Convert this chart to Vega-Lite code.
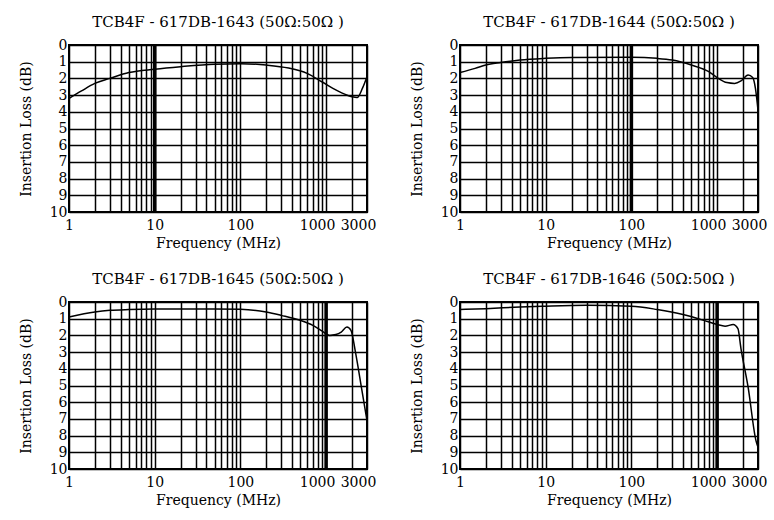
{
  "$schema": "https://vega.github.io/schema/vega-lite/v6.json",
  "background": "white",
  "padding": {"left": 18, "top": 14, "right": 0, "bottom": 0},
  "data": {"values": [
    {"panel": "TCB4F - 617DB-1643 (50Ω:50Ω )", "kind": "thick", "f": 10},
    {"panel": "TCB4F - 617DB-1644 (50Ω:50Ω )", "kind": "thick", "f": 100},
    {"panel": "TCB4F - 617DB-1645 (50Ω:50Ω )", "kind": "thick", "f": 1000},
    {"panel": "TCB4F - 617DB-1646 (50Ω:50Ω )", "kind": "thick", "f": 1000},

    {"panel": "TCB4F - 617DB-1643 (50Ω:50Ω )", "kind": "curve", "f": 1, "loss": 3.2},
    {"panel": "TCB4F - 617DB-1643 (50Ω:50Ω )", "kind": "curve", "f": 1.4, "loss": 2.75},
    {"panel": "TCB4F - 617DB-1643 (50Ω:50Ω )", "kind": "curve", "f": 2, "loss": 2.3},
    {"panel": "TCB4F - 617DB-1643 (50Ω:50Ω )", "kind": "curve", "f": 3, "loss": 2.0},
    {"panel": "TCB4F - 617DB-1643 (50Ω:50Ω )", "kind": "curve", "f": 5, "loss": 1.65},
    {"panel": "TCB4F - 617DB-1643 (50Ω:50Ω )", "kind": "curve", "f": 10, "loss": 1.45},
    {"panel": "TCB4F - 617DB-1643 (50Ω:50Ω )", "kind": "curve", "f": 20, "loss": 1.3},
    {"panel": "TCB4F - 617DB-1643 (50Ω:50Ω )", "kind": "curve", "f": 50, "loss": 1.15},
    {"panel": "TCB4F - 617DB-1643 (50Ω:50Ω )", "kind": "curve", "f": 100, "loss": 1.12},
    {"panel": "TCB4F - 617DB-1643 (50Ω:50Ω )", "kind": "curve", "f": 200, "loss": 1.2},
    {"panel": "TCB4F - 617DB-1643 (50Ω:50Ω )", "kind": "curve", "f": 365, "loss": 1.38},
    {"panel": "TCB4F - 617DB-1643 (50Ω:50Ω )", "kind": "curve", "f": 600, "loss": 1.7},
    {"panel": "TCB4F - 617DB-1643 (50Ω:50Ω )", "kind": "curve", "f": 890, "loss": 2.2},
    {"panel": "TCB4F - 617DB-1643 (50Ω:50Ω )", "kind": "curve", "f": 1200, "loss": 2.6},
    {"panel": "TCB4F - 617DB-1643 (50Ω:50Ω )", "kind": "curve", "f": 1500, "loss": 2.85},
    {"panel": "TCB4F - 617DB-1643 (50Ω:50Ω )", "kind": "curve", "f": 2000, "loss": 3.1},
    {"panel": "TCB4F - 617DB-1643 (50Ω:50Ω )", "kind": "curve", "f": 2300, "loss": 3.15},
    {"panel": "TCB4F - 617DB-1643 (50Ω:50Ω )", "kind": "curve", "f": 2650, "loss": 2.6},
    {"panel": "TCB4F - 617DB-1643 (50Ω:50Ω )", "kind": "curve", "f": 3000, "loss": 1.9},

    {"panel": "TCB4F - 617DB-1644 (50Ω:50Ω )", "kind": "curve", "f": 1, "loss": 1.65},
    {"panel": "TCB4F - 617DB-1644 (50Ω:50Ω )", "kind": "curve", "f": 1.5, "loss": 1.4},
    {"panel": "TCB4F - 617DB-1644 (50Ω:50Ω )", "kind": "curve", "f": 2, "loss": 1.2},
    {"panel": "TCB4F - 617DB-1644 (50Ω:50Ω )", "kind": "curve", "f": 3, "loss": 1.05},
    {"panel": "TCB4F - 617DB-1644 (50Ω:50Ω )", "kind": "curve", "f": 5, "loss": 0.9},
    {"panel": "TCB4F - 617DB-1644 (50Ω:50Ω )", "kind": "curve", "f": 10, "loss": 0.8},
    {"panel": "TCB4F - 617DB-1644 (50Ω:50Ω )", "kind": "curve", "f": 20, "loss": 0.75},
    {"panel": "TCB4F - 617DB-1644 (50Ω:50Ω )", "kind": "curve", "f": 100, "loss": 0.74},
    {"panel": "TCB4F - 617DB-1644 (50Ω:50Ω )", "kind": "curve", "f": 200, "loss": 0.8},
    {"panel": "TCB4F - 617DB-1644 (50Ω:50Ω )", "kind": "curve", "f": 300, "loss": 0.9},
    {"panel": "TCB4F - 617DB-1644 (50Ω:50Ω )", "kind": "curve", "f": 500, "loss": 1.2},
    {"panel": "TCB4F - 617DB-1644 (50Ω:50Ω )", "kind": "curve", "f": 800, "loss": 1.6},
    {"panel": "TCB4F - 617DB-1644 (50Ω:50Ω )", "kind": "curve", "f": 1000, "loss": 1.95},
    {"panel": "TCB4F - 617DB-1644 (50Ω:50Ω )", "kind": "curve", "f": 1300, "loss": 2.25},
    {"panel": "TCB4F - 617DB-1644 (50Ω:50Ω )", "kind": "curve", "f": 1600, "loss": 2.3},
    {"panel": "TCB4F - 617DB-1644 (50Ω:50Ω )", "kind": "curve", "f": 1900, "loss": 2.15},
    {"panel": "TCB4F - 617DB-1644 (50Ω:50Ω )", "kind": "curve", "f": 2300, "loss": 1.8},
    {"panel": "TCB4F - 617DB-1644 (50Ω:50Ω )", "kind": "curve", "f": 2600, "loss": 1.95},
    {"panel": "TCB4F - 617DB-1644 (50Ω:50Ω )", "kind": "curve", "f": 2800, "loss": 2.6},
    {"panel": "TCB4F - 617DB-1644 (50Ω:50Ω )", "kind": "curve", "f": 3000, "loss": 3.9},

    {"panel": "TCB4F - 617DB-1645 (50Ω:50Ω )", "kind": "curve", "f": 1, "loss": 0.9},
    {"panel": "TCB4F - 617DB-1645 (50Ω:50Ω )", "kind": "curve", "f": 2, "loss": 0.6},
    {"panel": "TCB4F - 617DB-1645 (50Ω:50Ω )", "kind": "curve", "f": 3, "loss": 0.5},
    {"panel": "TCB4F - 617DB-1645 (50Ω:50Ω )", "kind": "curve", "f": 5, "loss": 0.45},
    {"panel": "TCB4F - 617DB-1645 (50Ω:50Ω )", "kind": "curve", "f": 10, "loss": 0.42},
    {"panel": "TCB4F - 617DB-1645 (50Ω:50Ω )", "kind": "curve", "f": 50, "loss": 0.42},
    {"panel": "TCB4F - 617DB-1645 (50Ω:50Ω )", "kind": "curve", "f": 100, "loss": 0.44},
    {"panel": "TCB4F - 617DB-1645 (50Ω:50Ω )", "kind": "curve", "f": 200, "loss": 0.6},
    {"panel": "TCB4F - 617DB-1645 (50Ω:50Ω )", "kind": "curve", "f": 300, "loss": 0.8},
    {"panel": "TCB4F - 617DB-1645 (50Ω:50Ω )", "kind": "curve", "f": 500, "loss": 1.1},
    {"panel": "TCB4F - 617DB-1645 (50Ω:50Ω )", "kind": "curve", "f": 700, "loss": 1.4},
    {"panel": "TCB4F - 617DB-1645 (50Ω:50Ω )", "kind": "curve", "f": 900, "loss": 1.75},
    {"panel": "TCB4F - 617DB-1645 (50Ω:50Ω )", "kind": "curve", "f": 1100, "loss": 2.0},
    {"panel": "TCB4F - 617DB-1645 (50Ω:50Ω )", "kind": "curve", "f": 1300, "loss": 1.95},
    {"panel": "TCB4F - 617DB-1645 (50Ω:50Ω )", "kind": "curve", "f": 1500, "loss": 1.8},
    {"panel": "TCB4F - 617DB-1645 (50Ω:50Ω )", "kind": "curve", "f": 1750, "loss": 1.5},
    {"panel": "TCB4F - 617DB-1645 (50Ω:50Ω )", "kind": "curve", "f": 1950, "loss": 1.7},
    {"panel": "TCB4F - 617DB-1645 (50Ω:50Ω )", "kind": "curve", "f": 2200, "loss": 3.0},
    {"panel": "TCB4F - 617DB-1645 (50Ω:50Ω )", "kind": "curve", "f": 2600, "loss": 5.2},
    {"panel": "TCB4F - 617DB-1645 (50Ω:50Ω )", "kind": "curve", "f": 3000, "loss": 7.1},

    {"panel": "TCB4F - 617DB-1646 (50Ω:50Ω )", "kind": "curve", "f": 1, "loss": 0.45},
    {"panel": "TCB4F - 617DB-1646 (50Ω:50Ω )", "kind": "curve", "f": 2, "loss": 0.4},
    {"panel": "TCB4F - 617DB-1646 (50Ω:50Ω )", "kind": "curve", "f": 5, "loss": 0.3},
    {"panel": "TCB4F - 617DB-1646 (50Ω:50Ω )", "kind": "curve", "f": 10, "loss": 0.25},
    {"panel": "TCB4F - 617DB-1646 (50Ω:50Ω )", "kind": "curve", "f": 30, "loss": 0.2},
    {"panel": "TCB4F - 617DB-1646 (50Ω:50Ω )", "kind": "curve", "f": 100, "loss": 0.25},
    {"panel": "TCB4F - 617DB-1646 (50Ω:50Ω )", "kind": "curve", "f": 200, "loss": 0.45},
    {"panel": "TCB4F - 617DB-1646 (50Ω:50Ω )", "kind": "curve", "f": 400, "loss": 0.75},
    {"panel": "TCB4F - 617DB-1646 (50Ω:50Ω )", "kind": "curve", "f": 700, "loss": 1.1},
    {"panel": "TCB4F - 617DB-1646 (50Ω:50Ω )", "kind": "curve", "f": 1000, "loss": 1.35},
    {"panel": "TCB4F - 617DB-1646 (50Ω:50Ω )", "kind": "curve", "f": 1240, "loss": 1.45},
    {"panel": "TCB4F - 617DB-1646 (50Ω:50Ω )", "kind": "curve", "f": 1540, "loss": 1.35},
    {"panel": "TCB4F - 617DB-1646 (50Ω:50Ω )", "kind": "curve", "f": 1750, "loss": 1.6},
    {"panel": "TCB4F - 617DB-1646 (50Ω:50Ω )", "kind": "curve", "f": 1900, "loss": 2.8},
    {"panel": "TCB4F - 617DB-1646 (50Ω:50Ω )", "kind": "curve", "f": 2300, "loss": 5.1},
    {"panel": "TCB4F - 617DB-1646 (50Ω:50Ω )", "kind": "curve", "f": 2840, "loss": 8.3},
    {"panel": "TCB4F - 617DB-1646 (50Ω:50Ω )", "kind": "curve", "f": 3000, "loss": 8.7}
  ]},
  "facet": {
    "field": "panel", "type": "nominal",
    "header": {"title": null, "labelFont": "DejaVu Serif", "labelFontSize": 15, "labelColor": "black", "labelPadding": 8}
  },
  "columns": 2,
  "spacing": {"row": 20, "column": 32},
  "resolve": {"axis": {"x": "independent", "y": "independent"}},
  "spec": {
    "width": 298,
    "height": 167,
    "encoding": {
      "x": {
        "field": "f", "type": "quantitative",
        "scale": {"type": "log", "domain": [1, 3000], "nice": false},
        "axis": {
          "title": "Frequency (MHz)",
          "values": [1,2,3,4,5,6,7,8,9,10,20,30,40,50,60,70,80,90,100,200,300,400,500,600,700,800,900,1000,2000,3000],
          "labelExpr": "indexof([1,10,100,1000,3000], datum.value) >= 0 ? datum.value : ''",
          "labelOverlap": false,
          "labelFlush": false,
          "labelOffset": {"condition": {"test": "datum.value >= 1000", "value": -9}, "value": 0},
          "labelPadding": 6,
          "titlePadding": 4
        }
      }
    },
    "layer": [
      {
        "transform": [{"filter": "datum.kind === 'thick'"}],
        "mark": {"type": "rule", "color": "black", "strokeWidth": 3.5}
      },
      {
        "transform": [{"filter": "datum.kind === 'curve'"}],
        "mark": {"type": "line", "color": "black", "strokeWidth": 1.5, "interpolate": "monotone"},
        "encoding": {
          "y": {
            "field": "loss", "type": "quantitative",
            "scale": {"domain": [0, 10], "reverse": true, "nice": false},
            "axis": {
              "title": "Insertion Loss (dB)",
              "values": [0,1,2,3,4,5,6,7,8,9,10],
              "titlePadding": 16
            }
          }
        }
      }
    ]
  },
  "config": {
    "font": "DejaVu Serif",
    "view": {"stroke": "black", "strokeWidth": 2},
    "axis": {
      "grid": true, "gridColor": "black", "gridOpacity": 1, "gridWidth": 1.5,
      "ticks": false, "domain": false,
      "labelFont": "DejaVu Serif", "labelFontSize": 14, "labelColor": "black", "labelPadding": 2,
      "titleFont": "DejaVu Serif", "titleFontSize": 14, "titleFontWeight": "normal", "titleColor": "black", "titlePadding": 2
    }
  }
}
